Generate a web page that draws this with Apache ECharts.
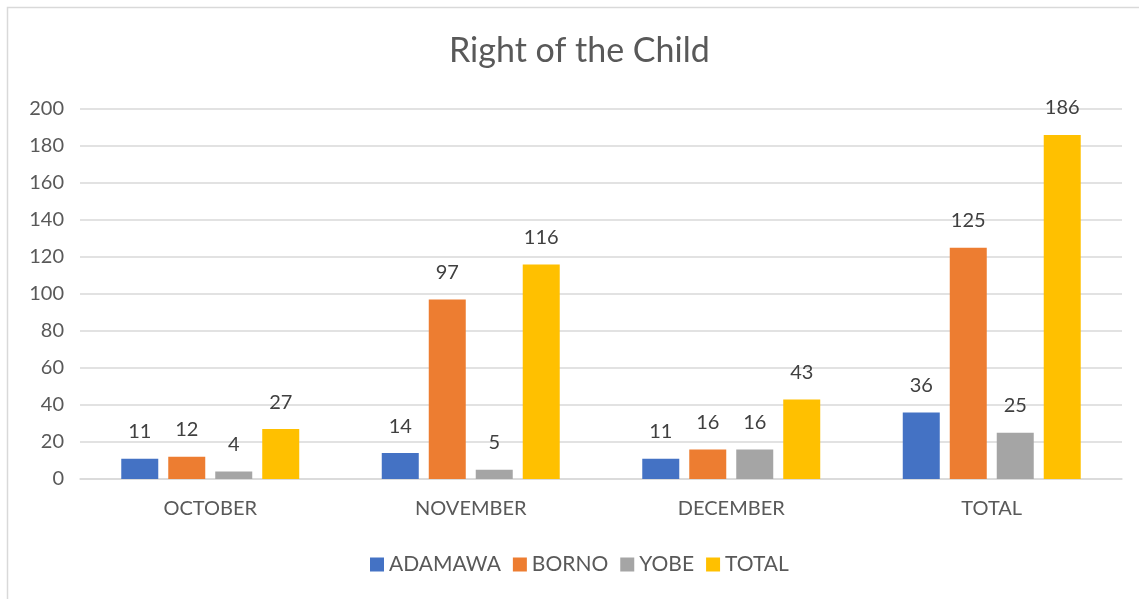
<!DOCTYPE html>
<html lang="en">
<head>
    <meta charset="UTF-8">
    <title>Right of the Child</title>
    <style>
        html, body { margin: 0; padding: 0; background: #fff; }
        #main { width: 1139px; height: 599px; }
    </style>
</head>
<body>
<div id="main"></div>
<script src="https://cdn.jsdelivr.net/npm/echarts@6/dist/echarts.min.js"></script>
<script>
    // data
    const months = ['OCTOBER', 'NOVEMBER', 'DECEMBER', 'TOTAL'];
    const adamawa = [11, 14, 11, 36];
    const borno = [12, 97, 16, 125];
    const yobe = [4, 5, 16, 25];
    const total = [27, 116, 43, 186];

    const font = 'Lato, "Open Sans", sans-serif';
    const myChart = echarts.init(document.getElementById('main'));

    function bar(name, data, color) {
        return {
            name: name,
            type: 'bar',
            data: data,
            barWidth: 37,
            barGap: '27%',
            itemStyle: { color: color },
            label: {
                show: true,
                position: 'top',
                distance: 17,
                color: '#404040',
                fontSize: 20,
                fontFamily: font
            }
        };
    }

    myChart.setOption({
        textStyle: { fontFamily: font },
        graphic: [{
            type: 'rect',
            shape: { x: 7.5, y: 7.5, width: 1140, height: 600 },
            style: { fill: 'none', stroke: '#d9d9d9', lineWidth: 1.5 },
            silent: true
        }],
        // the original chart is centred a little right of the window middle
        title: {
            text: 'Right of the Child',
            left: 444,
            top: 29,
            textStyle: { fontSize: 34, fontWeight: 'normal', color: '#595959', fontFamily: font }
        },
        legend: {
            bottom: 19,
            left: 365,
            itemWidth: 14,
            itemHeight: 14,
            itemGap: 12,
            icon: 'rect',
            textStyle: { fontSize: 21, color: '#595959', fontFamily: font }
        },
        grid: { left: 80, right: 17, top: 109, bottom: 120 },
        xAxis: {
            type: 'category',
            data: months,
            axisLine: { lineStyle: { color: '#d9d9d9', width: 1.5 } },
            axisTick: { show: false },
            axisLabel: { color: '#595959', fontSize: 20, margin: 20, fontFamily: font }
        },
        yAxis: {
            type: 'value',
            min: 0,
            max: 200,
            interval: 20,
            axisLine: { show: false },
            axisTick: { show: false },
            axisLabel: { color: '#595959', fontSize: 20, margin: 16, fontFamily: font },
            splitLine: { lineStyle: { color: '#d9d9d9', width: 1.5 } }
        },
        series: [
            bar('ADAMAWA', adamawa, '#4472C4'),
            bar('BORNO', borno, '#ED7D31'),
            bar('YOBE', yobe, '#A5A5A5'),
            bar('TOTAL', total, '#FFC000')
        ]
    });
</script>
</body>
</html>
